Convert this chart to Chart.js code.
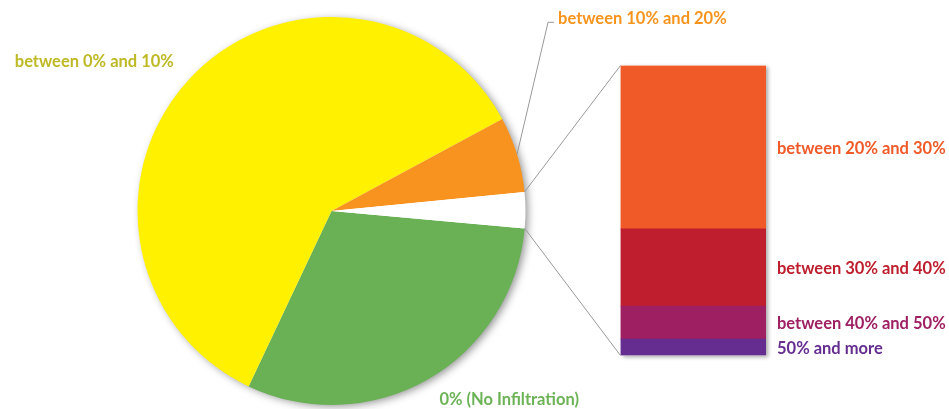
<!DOCTYPE html>
<html>
<head>
<meta charset="utf-8">
<script src="https://cdn.jsdelivr.net/npm/chart.js@4.4.1/dist/chart.umd.min.js"></script>
<style>
  html, body { margin: 0; padding: 0; background: #fff; }
  #wrap { position: relative; width: 949px; height: 409px; }
  #wrap canvas { position: absolute; left: 0; top: 0; }
</style>
</head>
<body>
<div id="wrap">
  <canvas id="pieChart" width="949" height="409"></canvas>
  <canvas id="barChart" width="949" height="409"></canvas>
</div>
<script>
// pie slices (last one is the "other" slice that gets split into the bar)
const pieLabels = ['0% (No Infiltration)', 'between 0% and 10%', 'between 10% and 20%', ''];
const pieColors = ['#6ab156', '#fff100', '#f7931e', '#ffffff'];
const pieTextColors = ['#6cb356', '#bfb925', '#f7941d', ''];

// bar pieces, bottom to top
const barLabels = ['50% and more', 'between 40% and 50%', 'between 30% and 40%', 'between 20% and 30%'];
const barValues = [0.17, 0.34, 0.80, 1.69];
const barColors = ['#652d90', '#9e1f62', '#be1e2d', '#f05a28'];

const otherValue = barValues.reduce((a, b) => a + b, 0);
const pieValues = [30.6, 60.1, 6.3, otherValue];

const FONT = 'bold 16.5px Lato';

// shadow under the pie + labels round it
const pieDeco = {
    id: 'pieDeco',
    beforeDatasetsDraw(chart) {
        const arc = chart.getDatasetMeta(0).data[0];
        const ctx = chart.ctx;
        ctx.save();
        ctx.shadowColor = 'rgba(0,0,0,0.45)';
        ctx.shadowBlur = 8;
        ctx.shadowOffsetX = 3;
        ctx.shadowOffsetY = 2;
        ctx.fillStyle = '#fff';
        ctx.beginPath();
        ctx.arc(arc.x, arc.y, arc.outerRadius - 1, 0, Math.PI * 2);
        ctx.fill();
        ctx.restore();
    },
    afterDraw(chart) {
        const ctx = chart.ctx;
        const arcs = chart.getDatasetMeta(0).data;
        ctx.save();
        ctx.font = FONT;
        ctx.textBaseline = 'middle';
        arcs.forEach((a, i) => {
            if (!pieLabels[i]) return;
            const mid = (a.startAngle + a.endAngle) / 2;
            ctx.fillStyle = pieTextColors[i];
            if (i === 2) {
                // small slice: leader line up to the label
                const ex = a.x + Math.cos(mid) * a.outerRadius;
                const ey = a.y + Math.sin(mid) * a.outerRadius;
                const lx = ex + 31, ly = ey - 132;
                ctx.strokeStyle = '#999';
                ctx.lineWidth = 1;
                ctx.beginPath();
                ctx.moveTo(ex, ey);
                ctx.lineTo(lx, ly);
                ctx.lineTo(lx + 6, ly);
                ctx.stroke();
                ctx.textAlign = 'left';
                ctx.fillText(pieLabels[i], lx + 10, ly - 4);
            } else {
                const r = a.outerRadius * 1.12;
                const x = a.x + Math.cos(mid) * r;
                const y = a.y + Math.sin(mid) * r;
                ctx.textAlign = Math.cos(mid) < 0 ? 'right' : 'left';
                ctx.fillText(pieLabels[i], x, y);
            }
        });
        ctx.restore();
    }
};

const pieChart = new Chart(document.getElementById('pieChart'), {
    type: 'pie',
    data: {
        labels: pieLabels,
        datasets: [{ data: pieValues, backgroundColor: pieColors, borderWidth: 0, hoverOffset: 0 }]
    },
    options: {
        responsive: false,
        animation: false,
        rotation: 95.15,
        layout: { padding: { left: 137.5, right: 423.5, top: 17, bottom: 4 } },
        plugins: { legend: { display: false }, tooltip: { enabled: false } }
    },
    plugins: [pieDeco]
});

// connector lines from the white slice to the bar + bar labels
const barDeco = {
    id: 'barDeco',
    beforeDatasetsDraw(chart) {
        const metas = chart.data.datasets.map((d, i) => chart.getDatasetMeta(i).data[0]);
        const top = metas[metas.length - 1], bottom = metas[0];
        const ctx = chart.ctx;
        ctx.save();
        ctx.shadowColor = 'rgba(0,0,0,0.35)';
        ctx.shadowBlur = 4;
        ctx.shadowOffsetX = 2;
        ctx.shadowOffsetY = 1;
        ctx.fillStyle = '#fff';
        ctx.fillRect(top.x - top.width / 2, top.y, top.width, bottom.base - top.y);
        ctx.restore();
    },
    afterDraw(chart) {
        const ctx = chart.ctx;
        const metas = chart.data.datasets.map((d, i) => chart.getDatasetMeta(i).data[0]);
        const top = metas[metas.length - 1], bottom = metas[0];
        const other = pieChart.getDatasetMeta(0).data[pieValues.length - 1];
        const left = top.x - top.width / 2;
        const right = top.x + top.width / 2;

        ctx.save();
        ctx.strokeStyle = '#999';
        ctx.lineWidth = 1;
        ctx.beginPath();
        ctx.moveTo(other.x + Math.cos(other.startAngle) * other.outerRadius,
                   other.y + Math.sin(other.startAngle) * other.outerRadius);
        ctx.lineTo(left, top.y);
        ctx.moveTo(other.x + Math.cos(other.endAngle) * other.outerRadius,
                   other.y + Math.sin(other.endAngle) * other.outerRadius);
        ctx.lineTo(left, bottom.base);
        ctx.stroke();

        ctx.font = FONT;
        ctx.textBaseline = 'middle';
        ctx.textAlign = 'left';
        metas.forEach((m, i) => {
            ctx.fillStyle = barColors[i];
            ctx.fillText(barLabels[i], right + 11, (m.y + m.base) / 2 + 1);
        });
        ctx.restore();
    }
};

new Chart(document.getElementById('barChart'), {
    type: 'bar',
    data: {
        labels: [''],
        datasets: barValues.map((v, i) => ({
            label: barLabels[i],
            data: [v],
            backgroundColor: barColors[i],
            borderWidth: 0,
            barPercentage: 1,
            categoryPercentage: 1
        }))
    },
    options: {
        responsive: false,
        animation: false,
        layout: { padding: { left: 620.5, right: 183, top: 65.5, bottom: 53.5 } },
        scales: {
            x: { stacked: true, display: false },
            y: { stacked: true, display: false, min: 0, max: otherValue }
        },
        plugins: { legend: { display: false }, tooltip: { enabled: false } }
    },
    plugins: [barDeco]
});
</script>
</body>
</html>
